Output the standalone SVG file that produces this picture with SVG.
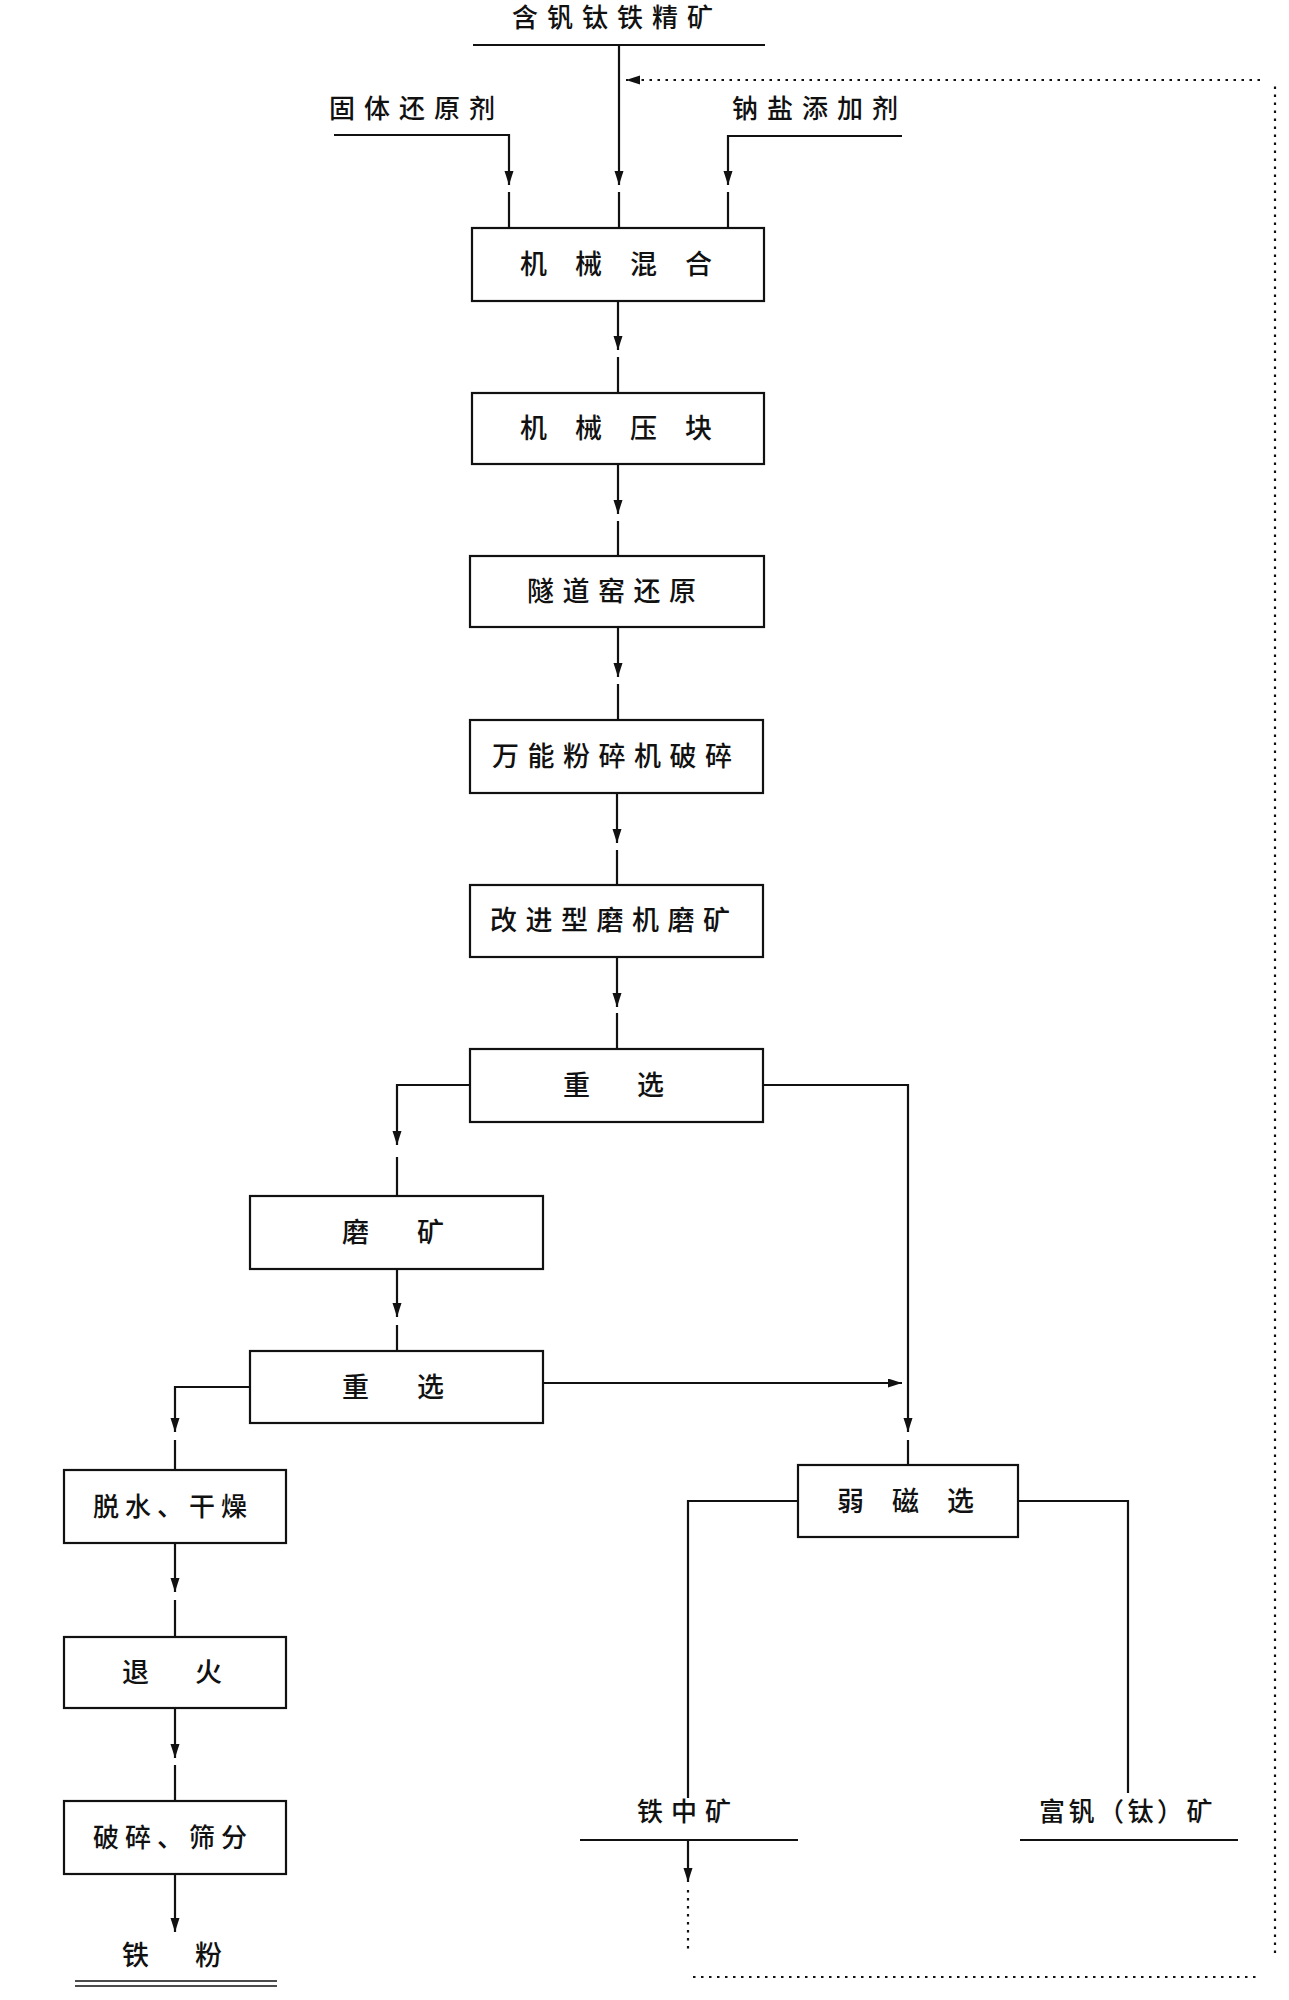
<svg xmlns="http://www.w3.org/2000/svg" width="1289" height="2000" viewBox="0 0 1289 2000">
<style>
.box{fill:#fff;stroke:#111;stroke-width:2.2}
.t{font-family:"Noto Sans CJK SC","Noto Sans CJK JP",sans-serif;font-size:27px;font-weight:500;fill:#111}
.ln{fill:none;stroke:#111;stroke-width:2.2}
.dot{fill:none;stroke:#111;stroke-width:2.2;stroke-dasharray:2.5 5.5}
</style>
<defs>
<marker id="ah" markerUnits="userSpaceOnUse" markerWidth="16" markerHeight="10" refX="14" refY="4.5" orient="auto">
<path d="M0,0 L14,4.5 L0,9 z" fill="#111"/>
</marker>
</defs>
<rect width="1289" height="2000" fill="#fff"/>

<g id="connectors">
<line class="ln" x1="473" y1="45" x2="765" y2="45"/>
<path class="ln" d="M619,45 V185" marker-end="url(#ah)"/>
<path class="ln" d="M619,192 V228"/>
<path class="ln" d="M334,135 H509 V185" marker-end="url(#ah)"/>
<path class="ln" d="M509,192 V228"/>
<path class="ln" d="M902,136 H728 V185" marker-end="url(#ah)"/>
<path class="ln" d="M728,192 V228"/>
<path class="ln" d="M618,301 V350" marker-end="url(#ah)"/>
<path class="ln" d="M618,357 V393"/>
<path class="ln" d="M618,464 V514" marker-end="url(#ah)"/>
<path class="ln" d="M618,521 V556"/>
<path class="ln" d="M618,627 V677" marker-end="url(#ah)"/>
<path class="ln" d="M618,684 V720"/>
<path class="ln" d="M617,793 V843" marker-end="url(#ah)"/>
<path class="ln" d="M617,850 V885"/>
<path class="ln" d="M617,957 V1007" marker-end="url(#ah)"/>
<path class="ln" d="M617,1013 V1049"/>
<path class="ln" d="M470,1085 H397 V1145" marker-end="url(#ah)"/>
<path class="ln" d="M397,1157 V1196"/>
<path class="ln" d="M763,1085 H908 V1432" marker-end="url(#ah)"/>
<path class="ln" d="M908,1440 V1465"/>
<path class="ln" d="M397,1269 V1317" marker-end="url(#ah)"/>
<path class="ln" d="M397,1325 V1351"/>
<path class="ln" d="M543,1383 H902" marker-end="url(#ah)"/>
<path class="ln" d="M250,1387 H175 V1432" marker-end="url(#ah)"/>
<path class="ln" d="M175,1440 V1470"/>
<path class="ln" d="M175,1543 V1592" marker-end="url(#ah)"/>
<path class="ln" d="M175,1600 V1637"/>
<path class="ln" d="M175,1708 V1758" marker-end="url(#ah)"/>
<path class="ln" d="M175,1765 V1801"/>
<path class="ln" d="M175,1874 V1932" marker-end="url(#ah)"/>
<path class="ln" d="M798,1501 H688 V1798"/>
<path class="ln" d="M1018,1501 H1128 V1793"/>
<path class="ln" d="M688,1840 V1882" marker-end="url(#ah)"/>
<path class="dot" d="M688,1890 V1952"/>
<path class="dot" d="M693,1977 H1258"/>
<path class="dot" d="M1275,1953 V83"/>
<path class="dot" d="M1260,80 H626" marker-end="url(#ah)"/>
</g>

<g id="n-feed">
<text class="t" x="512" y="27" style="font-size:26px;letter-spacing:9px">含钒钛铁精矿</text>
</g>
<g id="n-reductant">
<text class="t" x="329" y="118" style="font-size:26px;letter-spacing:9px">固体还原剂</text>
</g>
<g id="n-sodium">
<text class="t" x="732" y="118" style="font-size:26px;letter-spacing:9px">钠盐添加剂</text>
</g>

<g id="n-mix">
<rect class="box" x="472" y="228" width="292" height="73"/>
<text class="t" x="520" y="274" style="letter-spacing:28px">机械混合</text>
</g>
<g id="n-press">
<rect class="box" x="472" y="393" width="292" height="71"/>
<text class="t" x="520" y="438" style="letter-spacing:28px">机械压块</text>
</g>
<g id="n-kiln">
<rect class="box" x="470" y="556" width="294" height="71"/>
<text class="t" x="527" y="601" style="letter-spacing:8.5px">隧道窑还原</text>
</g>
<g id="n-crush">
<rect class="box" x="470" y="720" width="293" height="73"/>
<text class="t" x="492" y="766" style="letter-spacing:8.5px">万能粉碎机破碎</text>
</g>
<g id="n-mill">
<rect class="box" x="470" y="885" width="293" height="72"/>
<text class="t" x="490" y="930" style="letter-spacing:8.5px">改进型磨机磨矿</text>
</g>
<g id="n-grav1">
<rect class="box" x="470" y="1049" width="293" height="73"/>
<text class="t" x="563" y="1095" style="letter-spacing:47px">重选</text>
</g>
<g id="n-regrind">
<rect class="box" x="250" y="1196" width="293" height="73"/>
<text class="t" x="342" y="1242" style="letter-spacing:48px">磨矿</text>
</g>
<g id="n-grav2">
<rect class="box" x="250" y="1351" width="293" height="72"/>
<text class="t" x="342" y="1397" style="letter-spacing:48px">重选</text>
</g>
<g id="n-dry">
<rect class="box" x="64" y="1470" width="222" height="73"/>
<text class="t" x="93" y="1516" style="font-size:26px;letter-spacing:6px">脱水、干燥</text>
</g>
<g id="n-anneal">
<rect class="box" x="64" y="1637" width="222" height="71"/>
<text class="t" x="122" y="1682" style="letter-spacing:46px">退火</text>
</g>
<g id="n-screen">
<rect class="box" x="64" y="1801" width="222" height="73"/>
<text class="t" x="93" y="1847" style="font-size:26px;letter-spacing:6px">破碎、筛分</text>
</g>
<g id="n-ironpowder">
<text class="t" x="122" y="1965" style="letter-spacing:46px">铁粉</text>
<line class="ln" x1="75" y1="1981" x2="277" y2="1981" style="stroke-width:1.6"/>
<line class="ln" x1="75" y1="1986" x2="277" y2="1986" style="stroke-width:1.6"/>
</g>
<g id="n-magsep">
<rect class="box" x="798" y="1465" width="220" height="72"/>
<text class="t" x="837" y="1511" style="letter-spacing:28px">弱磁选</text>
</g>
<g id="n-middling">
<text class="t" x="637" y="1821" style="font-size:26px;letter-spacing:8px">铁中矿</text>
<line class="ln" x1="580" y1="1840" x2="798" y2="1840"/>
</g>
<g id="n-vconc">
<text class="t" x="1039" y="1821" style="font-size:26px;letter-spacing:3.5px">富钒（钛）矿</text>
<line class="ln" x1="1020" y1="1840" x2="1238" y2="1840"/>
</g>
</svg>
